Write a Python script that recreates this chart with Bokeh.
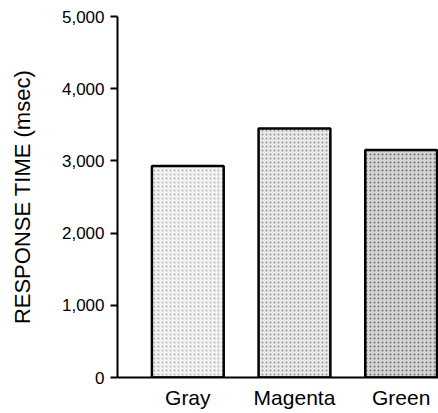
from bokeh.plotting import figure
from bokeh.models import Range1d, FixedTicker, NumeralTickFormatter, ColumnDataSource
from bokeh.embed import file_html
from bokeh.resources import INLINE

categories = ["Gray", "Magenta", "Green"]
response_ms = [2930, 3450, 3150]
y_ticks = [0, 1000, 2000, 3000, 4000, 5000]

fills = ["#f3f3f3", "#e8e8e8", "#d6d6d6"]
hatch_alphas = [0.4, 0.55, 0.8]

xs = list(range(len(categories)))
src = ColumnDataSource(dict(x=xs, top=response_ms, fill=fills, ha=hatch_alphas))

p = figure(width=438, height=413, output_backend="svg", toolbar_location=None,
           x_range=Range1d(-0.659, 2.35), y_range=Range1d(0, 5000),
           min_border_left=117, min_border_right=0, min_border_top=16, min_border_bottom=36)
p.outline_line_color = None
p.grid.grid_line_color = None
p.background_fill_color = "white"
p.border_fill_color = "white"

p.vbar(x="x", top="top", bottom=0, width=0.673, source=src,
       fill_color="fill", line_color="black", line_width=2.5,
       hatch_pattern="dot", hatch_color="#555555", hatch_alpha="ha", hatch_scale=4)

# y axis
ya = p.yaxis[0]
ya.ticker = FixedTicker(ticks=y_ticks)
ya.formatter = NumeralTickFormatter(format="0,0")
ya.axis_line_color = "black"
ya.axis_line_width = 2
ya.major_tick_line_color = "black"
ya.major_tick_line_width = 2
ya.major_tick_out = 7
ya.major_tick_in = 0
ya.minor_tick_line_color = None
ya.major_label_text_font = "Liberation Sans"
ya.major_label_text_font_size = "17px"
ya.major_label_text_color = "black"
ya.major_label_standoff = 6
ya.axis_label = "RESPONSE TIME (msec)"
ya.axis_label_text_font = "Liberation Sans"
ya.axis_label_text_font_size = "22px"
ya.axis_label_text_font_style = "normal"
ya.axis_label_text_color = "black"
ya.axis_label_standoff = 24

# x axis
xa = p.xaxis[0]
xa.ticker = FixedTicker(ticks=xs)
xa.major_label_overrides = {i: c for i, c in enumerate(categories)}
xa.axis_line_color = "black"
xa.axis_line_width = 2
xa.major_tick_line_color = None
xa.major_tick_out = 0
xa.major_tick_in = 0
xa.minor_tick_line_color = None
xa.major_label_text_font = "Liberation Sans"
xa.major_label_text_font_size = "21px"
xa.major_label_text_color = "black"
xa.major_label_standoff = 8

open("out.html", "w").write(file_html(p, INLINE))
